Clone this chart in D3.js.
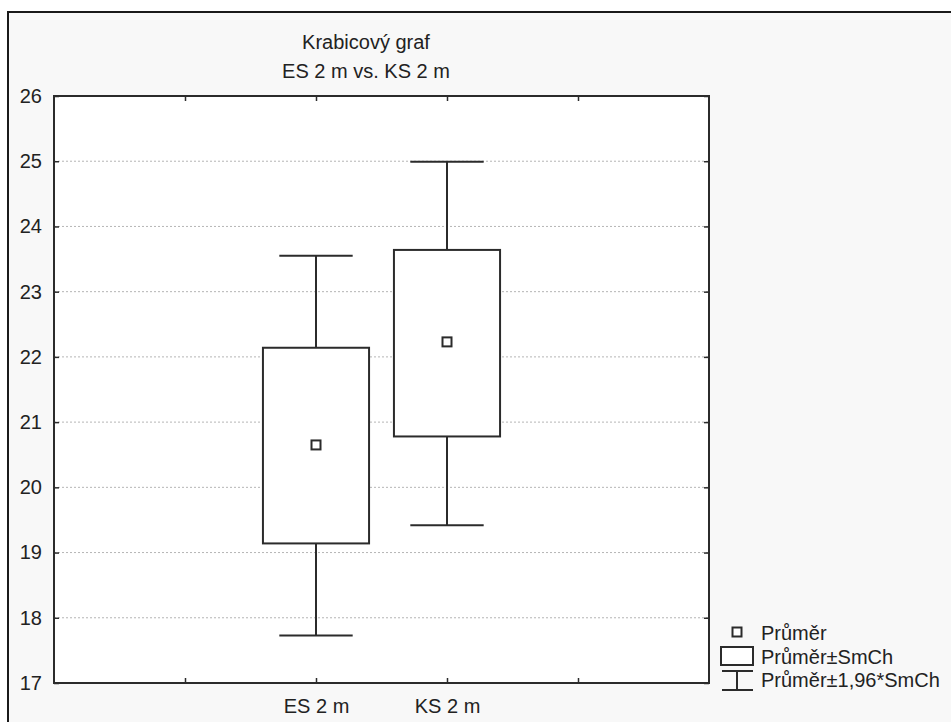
<!DOCTYPE html>
<html>
<head>
<meta charset="utf-8">
<script src="https://cdn.jsdelivr.net/npm/d3@7"></script>
<style>
  html, body { margin: 0; padding: 0; background: #ffffff; }
  svg { display: block; }
  text { font-family: "Liberation Sans", Arial, sans-serif; fill: #222; }
</style>
</head>
<body>
<svg id="chart" width="951" height="722"></svg>
<script>
// Box plot: mean, mean ± SE (box), mean ± 1.96·SE (whiskers)
const categories = ["ES 2 m", "KS 2 m"];
const catPos = [2, 3];                 // positions on the category axis
const means = [20.65, 22.23];
const boxLow = [19.14, 20.78];         // Průměr − SmCh
const boxHigh = [22.14, 23.64];        // Průměr + SmCh
const whiskLow = [17.73, 19.42];       // Průměr − 1,96*SmCh
const whiskHigh = [23.55, 24.99];      // Průměr + 1,96*SmCh
const yTicks = [17, 18, 19, 20, 21, 22, 23, 24, 25, 26];
const xTicks = [1, 2, 3, 4];
const titleLines = ["Krabicový graf", "ES 2 m vs. KS 2 m"];
const legendLabels = ["Průměr", "Průměr±SmCh", "Průměr±1,96*SmCh"];

const svg = d3.select("#chart");
const ink = "#2b2b2b";

const plot = { left: 54, right: 709, top: 96, bottom: 683 };

const x = d3.scaleLinear().domain([0, 5]).range([plot.left, plot.right]);
const y = d3.scaleLinear().domain([17, 26]).range([plot.bottom, plot.top]);

// Outer panel frame
svg.append("rect")
  .attr("x", 8).attr("y", 12)
  .attr("width", 960).attr("height", 730)
  .attr("fill", "#f8f8f8")
  .attr("stroke", "#1a1a1a").attr("stroke-width", 2);

// Plot background
svg.append("rect")
  .attr("x", plot.left).attr("y", plot.top)
  .attr("width", plot.right - plot.left).attr("height", plot.bottom - plot.top)
  .attr("fill", "#ffffff");

// Title
svg.append("g").selectAll("text")
  .data(titleLines).join("text")
  .attr("x", 366)
  .attr("y", (d, i) => 49 + i * 29)
  .attr("text-anchor", "middle")
  .attr("font-size", 20)
  .text(d => d);

// Horizontal dotted grid
svg.append("g").selectAll("line")
  .data(yTicks.filter(t => t > 17 && t < 26)).join("line")
  .attr("x1", plot.left).attr("x2", plot.right)
  .attr("y1", d => y(d)).attr("y2", d => y(d))
  .attr("stroke", "#b5b5b5").attr("stroke-width", 1)
  .attr("stroke-dasharray", "2,2");

// Axes with inward ticks
const styleAxis = g => {
  g.select(".domain").remove();
  g.selectAll(".tick line").attr("stroke", ink).attr("stroke-width", 1.5);
  g.selectAll(".tick text").attr("font-size", 20).attr("fill", "#222")
    .attr("font-family", "Liberation Sans, Arial, sans-serif");
};

svg.append("g")
  .attr("transform", `translate(${plot.left},0)`)
  .call(d3.axisLeft(y).tickValues(yTicks).tickFormat(d3.format("d"))
    .tickSize(-5).tickPadding(12))
  .call(styleAxis);

svg.append("g")
  .attr("transform", `translate(${plot.right},0)`)
  .call(d3.axisRight(y).tickValues(yTicks).tickFormat("").tickSize(-5))
  .call(styleAxis);

svg.append("g")
  .attr("transform", `translate(0,${plot.bottom})`)
  .call(d3.axisBottom(x).tickValues(xTicks)
    .tickFormat(d => { const i = catPos.indexOf(d); return i >= 0 ? categories[i] : ""; })
    .tickSize(-5).tickPadding(16))
  .call(styleAxis);

svg.append("g")
  .attr("transform", `translate(0,${plot.top})`)
  .call(d3.axisTop(x).tickValues(xTicks).tickFormat("").tickSize(-5))
  .call(styleAxis);

// Plot border
svg.append("rect")
  .attr("x", plot.left).attr("y", plot.top)
  .attr("width", plot.right - plot.left).attr("height", plot.bottom - plot.top)
  .attr("fill", "none").attr("stroke", ink).attr("stroke-width", 2);

// Boxes and whiskers
const boxW = 0.81, capW = 0.56;
const data = categories.map((c, i) => ({
  pos: catPos[i], mean: means[i], lo: boxLow[i], hi: boxHigh[i],
  wlo: whiskLow[i], whi: whiskHigh[i]
}));

const boxes = svg.append("g").selectAll("g").data(data).join("g");
const bw = x(boxW) - x(0), cw = x(capW) - x(0);

// whisker stems
boxes.append("line")
  .attr("x1", d => x(d.pos)).attr("x2", d => x(d.pos))
  .attr("y1", d => y(d.whi)).attr("y2", d => y(d.hi))
  .attr("stroke", ink).attr("stroke-width", 2);
boxes.append("line")
  .attr("x1", d => x(d.pos)).attr("x2", d => x(d.pos))
  .attr("y1", d => y(d.lo)).attr("y2", d => y(d.wlo))
  .attr("stroke", ink).attr("stroke-width", 2);
// caps
boxes.append("line")
  .attr("x1", d => x(d.pos) - cw / 2).attr("x2", d => x(d.pos) + cw / 2)
  .attr("y1", d => y(d.whi)).attr("y2", d => y(d.whi))
  .attr("stroke", ink).attr("stroke-width", 2);
boxes.append("line")
  .attr("x1", d => x(d.pos) - cw / 2).attr("x2", d => x(d.pos) + cw / 2)
  .attr("y1", d => y(d.wlo)).attr("y2", d => y(d.wlo))
  .attr("stroke", ink).attr("stroke-width", 2);
// box
boxes.append("rect")
  .attr("x", d => x(d.pos) - bw / 2).attr("width", bw)
  .attr("y", d => y(d.hi)).attr("height", d => y(d.lo) - y(d.hi))
  .attr("fill", "#ffffff").attr("stroke", ink).attr("stroke-width", 2);
// mean marker
boxes.append("rect")
  .attr("x", d => x(d.pos) - 4.5).attr("y", d => y(d.mean) - 4.5)
  .attr("width", 9).attr("height", 9)
  .attr("fill", "#ffffff").attr("stroke", ink).attr("stroke-width", 2);

// Legend
const lg = svg.append("g");
const lx = 737;
lg.append("rect").attr("x", lx - 4.5).attr("y", 627.5).attr("width", 9).attr("height", 9)
  .attr("fill", "#fff").attr("stroke", ink).attr("stroke-width", 2);
lg.append("rect").attr("x", 721).attr("y", 647).attr("width", 32).attr("height", 18)
  .attr("fill", "#fff").attr("stroke", ink).attr("stroke-width", 2);
lg.append("line").attr("x1", 722).attr("x2", 753).attr("y1", 671).attr("y2", 671)
  .attr("stroke", ink).attr("stroke-width", 2);
lg.append("line").attr("x1", lx).attr("x2", lx).attr("y1", 671).attr("y2", 690)
  .attr("stroke", ink).attr("stroke-width", 2);
lg.append("line").attr("x1", 722).attr("x2", 753).attr("y1", 690).attr("y2", 690)
  .attr("stroke", ink).attr("stroke-width", 2);
lg.selectAll("text").data(legendLabels).join("text")
  .attr("x", 761).attr("y", (d, i) => 640 + i * 23.5)
  .attr("font-size", 20)
  .text(d => d);
</script>
</body>
</html>
